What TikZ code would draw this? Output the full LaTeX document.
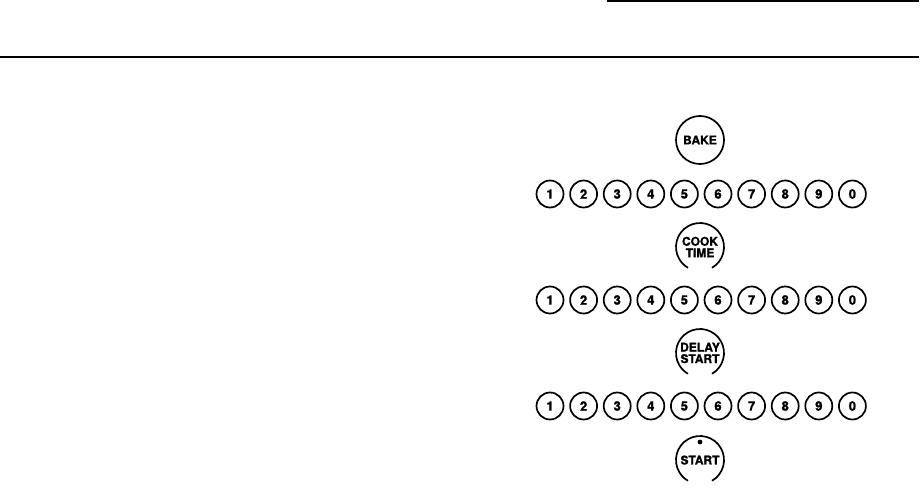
\documentclass[tikz,border=0pt]{standalone}
\usepackage{fontspec}
\newfontfamily\btnfont[BoldFeatures={FakeBold=1.2}]{TeX Gyre Heros}
\usepackage{tikz}
\usetikzlibrary{positioning, calc}

\begin{document}
\begin{tikzpicture}[x=1pt, y=1pt,
    numbtn/.style={circle, draw=black, line width=1.7pt, minimum size=27pt, inner sep=0pt,
        font=\btnfont\bfseries\fontsize{13}{13}\selectfont},
    bigbtn/.style={circle, draw=black, line width=1.7pt, minimum size=48pt, inner sep=0pt,
        font=\btnfont\bfseries\fontsize{12}{11.5}\selectfont, align=center},
    gapbtn/.style={circle, minimum size=48pt, inner sep=0pt,
        font=\btnfont\bfseries\fontsize{12}{11.5}\selectfont, align=center}]
    \useasboundingbox (0,0) rectangle (923,501);
    % header rules
    \coordinate (T1) at (607,500);
    \coordinate (T2) at (919,500);
    \coordinate (B1) at (0,444);
    \coordinate (B2) at (919,444);
    \draw[line width=2pt] (T1) -- (T2);
    \draw[line width=2pt] (B1) -- (B2);
    % key sequence
    \node[bigbtn] (bake) at (700,361) {BAKE};
    \node[gapbtn] (cook) at (700,254) {COOK\\TIME};
    \node[gapbtn] (delay) at (700,148) {DELAY\\START};
    \node[gapbtn, text depth=-3pt] (start) at (700,41) {START};
    \foreach \r/\y in {a/307, b/201, c/95} {
        \foreach \d [count=\i from 0] in {1,2,3,4,5,6,7,8,9,0} {
            \node[numbtn] (\r\i) at ({550+33.6*\i},\y) {\d};
        }
    }
    \foreach \b in {cook, delay, start} {
        \draw[line width=1.7pt] ([shift={(-60:24pt)}]\b.center) arc[start angle=-60, end angle=240, radius=24pt];
    }
    \fill ([yshift=18pt]start.center) circle (2.4pt);
\end{tikzpicture}
\end{document}
